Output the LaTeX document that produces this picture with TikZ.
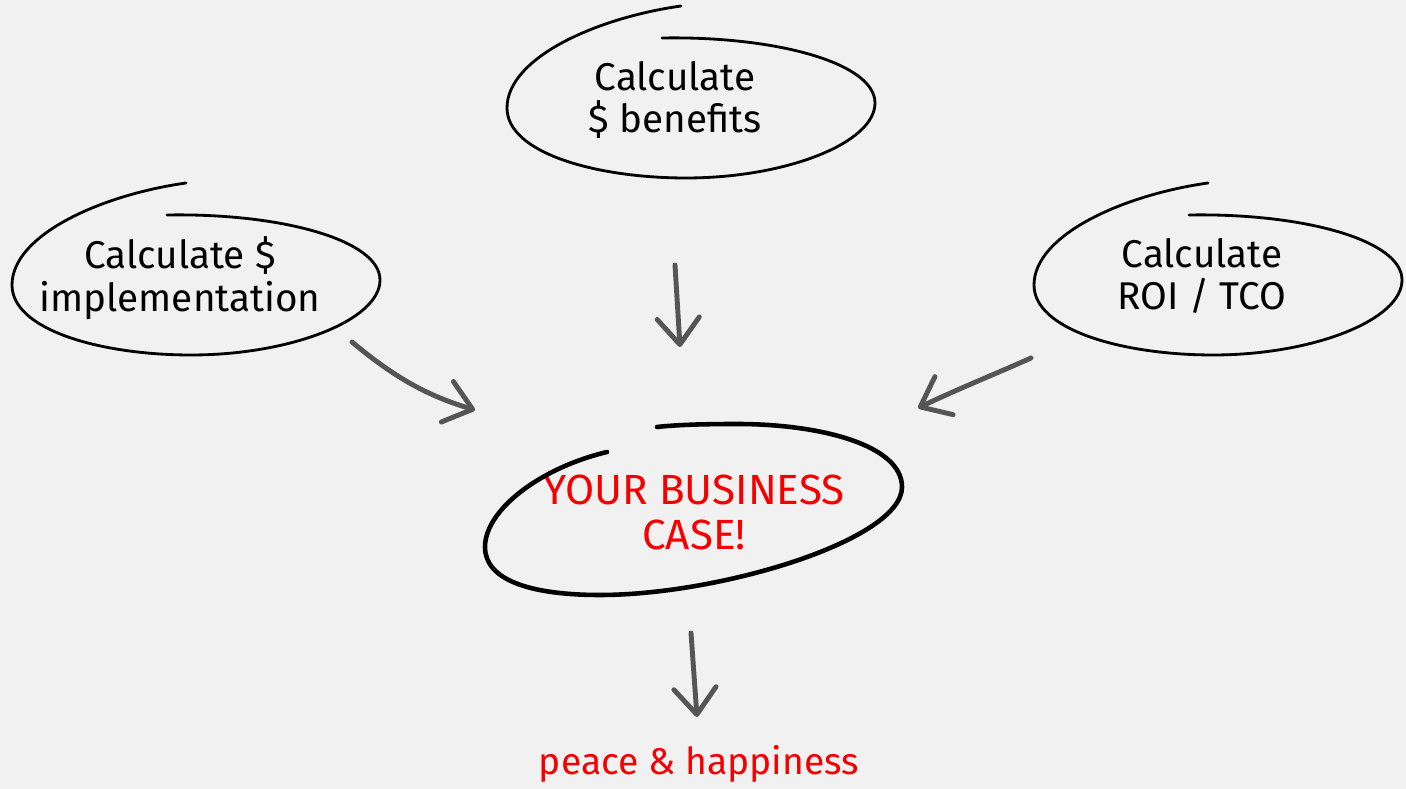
\documentclass[tikz,border=0pt]{standalone}
\usepackage{fontspec}
\setmainfont{Fira Sans}
\usepackage{xcolor}
\definecolor{paper}{RGB}{241,241,241}
\definecolor{pen}{RGB}{85,85,85}
\definecolor{marker}{RGB}{245,0,0}
\usetikzlibrary{arrows.meta, calc}
\tikzset{
  calcnode/.style={align=center, inner sep=0pt, text=black,
    font=\fontsize{11}{12.2}\selectfont},
  casenode/.style={align=center, inner sep=0pt, text=marker,
    font=\fontsize{12}{12.8}\selectfont},
  endnode/.style={inner sep=0pt, text=marker,
    font=\fontsize{10.6}{12}\selectfont},
  loopline/.style={draw=black, line width=0.8pt, line cap=round},
  caseline/.style={draw=black, line width=1.3pt, line cap=round},
  sketcharrow/.style={-{Straight Barb[length=7.5pt, width=12pt, round]},
    line width=1.4pt, color=pen, line cap=round},
  % open hand-drawn loop, the two ends overlap at the top
  sketchloop/.pic={
    \draw[loopline] (-10,-86) .. controls (-95,-74) and (-184,-34) .. (-184,16)
      .. controls (-184,61) and (-95,86) .. (-5,86)
      .. controls (95,86) and (184,51) .. (184,11)
      .. controls (184,-29) and (85,-56) .. (-29,-54);
  },
  caseloop/.pic={
    \draw[caseline] (-87,-59) .. controls (-154,-43) and (-209,-1) .. (-209,36)
      .. controls (-209,69) and (-164,84) .. (-94,84)
      .. controls (26,84) and (208,29) .. (208,-24)
      .. controls (208,-66) and (126,-87) .. (43,-87)
      .. controls (6,-87) and (-19,-86) .. (-37,-84);
  }
}

\begin{document}
\begin{tikzpicture}[x=0.01cm, y=-0.01cm]
  \fill[paper] (0,0) rectangle (1406,789);
  \useasboundingbox (0,0) rectangle (1406,789);

  \node[calcnode] (ben) at (675,100) {Calculate\\\$ benefits};
  \node[calcnode] (imp) at (180,278) {Calculate \$\\implementation};
  \node[calcnode] (roi) at (1202,276) {Calculate\\ROI / TCO};
  \node[casenode] (bc) at (694,512) {YOUR BUSINESS\\CASE!};
  \node[endnode, anchor=base] (ph) at (699,775) {peace \& happiness};

  \pic at ($(ben)+(16,-8)$) {sketchloop};
  \pic at ($(imp)+(16,-9)$) {sketchloop};
  \pic at ($(roi)+(16,-7)$) {sketchloop};
  \pic at ($(bc)+(0,-1)$) {caseloop};

  \coordinate (ben-out) at (675,265);
  \coordinate (imp-out) at (352,342);
  \coordinate (roi-out) at (1031,358);
  \coordinate (bc-n)  at (680,347);
  \coordinate (bc-nw) at (475,410);
  \coordinate (bc-ne) at (918,408);
  \coordinate (bc-out) at (691,633);
  \coordinate (ph-n)  at (697,717);

  \draw[sketcharrow] (ben-out) -- (bc-n);
  \draw[sketcharrow] (imp-out) .. controls (395,378) and (428,396) .. (bc-nw);
  \draw[sketcharrow] (roi-out) .. controls (1000,372) and (960,388) .. (bc-ne);
  \draw[sketcharrow] (bc-out) -- (ph-n);
\end{tikzpicture}
\end{document}
